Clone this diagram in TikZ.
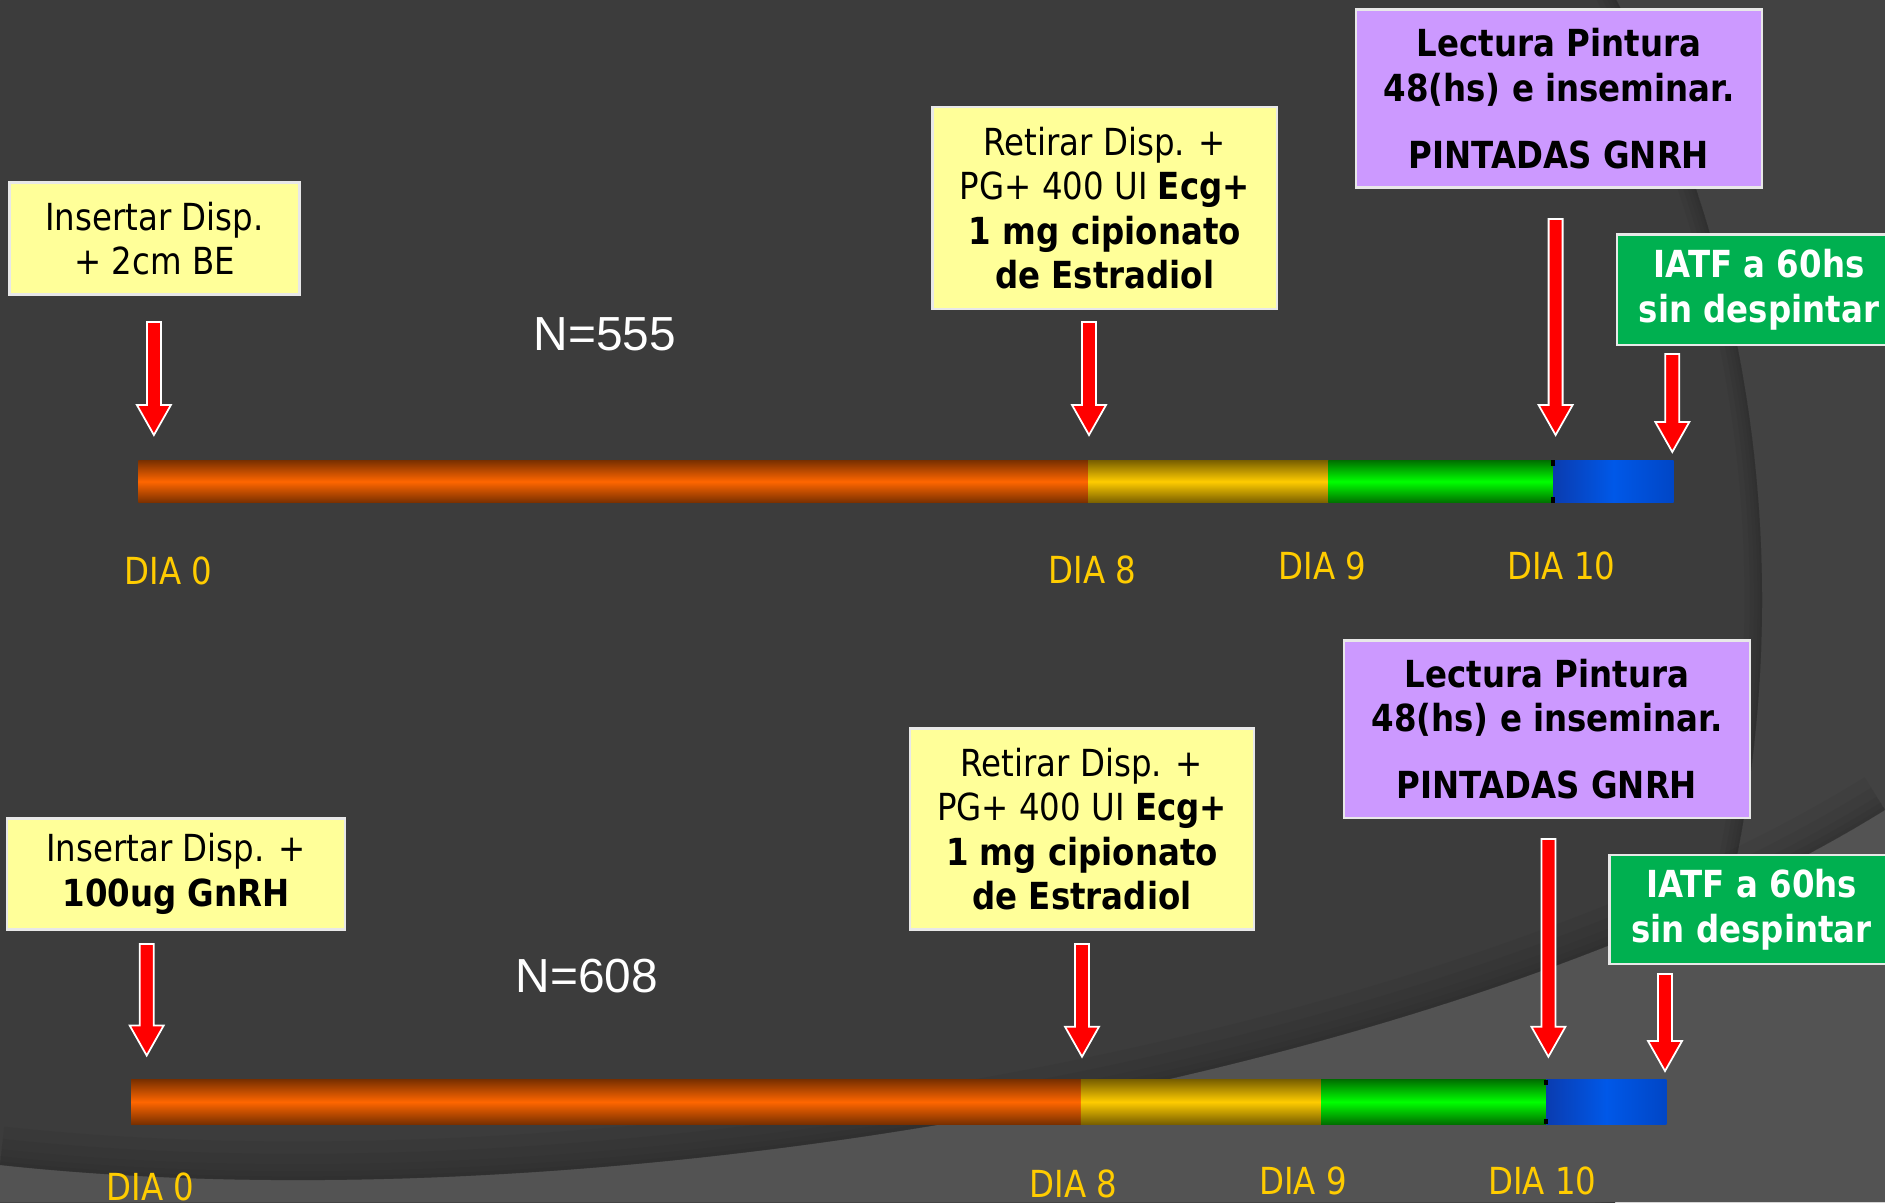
\documentclass[tikz,border=0pt]{standalone}
\usepackage{fontspec}
\setmainfont{DejaVu Sans}[FakeStretch=0.87]
\newfontfamily\arialfont{Liberation Sans}
\usetikzlibrary{calc}
\definecolor{bgdark}{HTML}{3C3C3C}
\definecolor{bgright}{HTML}{424242}
\definecolor{bglight}{HTML}{535353}
\definecolor{boxyellow}{HTML}{FFFF99}
\definecolor{boxpurple}{HTML}{CC99FF}
\definecolor{boxgreen}{HTML}{00B050}
\definecolor{boxline}{HTML}{E8E8E8}
\definecolor{gold}{HTML}{FFCC00}
\definecolor{orangeC}{HTML}{FF6600}
\definecolor{orangeE}{HTML}{7A3000}
\definecolor{yellowC}{HTML}{FFCC00}
\definecolor{yellowE}{HTML}{7A6000}
\definecolor{greenC}{HTML}{00FF00}
\definecolor{greenE}{HTML}{007000}
\definecolor{blueA}{HTML}{0A3CB0}
\definecolor{blueB}{HTML}{0058E8}
\definecolor{blueC}{HTML}{0046C6}
\newcommand{\boxfont}{\fontsize{10.6}{12.66}\selectfont}
\newcommand{\blockarrow}[2]{%
  \path[redarrow] ($(#1)+(-7,0)$) -- ($(#1)+(7,0)$) -- ($(#2)+(7,-30)$) -- ($(#2)+(17,-30)$) -- (#2) -- ($(#2)+(-17,-30)$) -- ($(#2)+(-7,-30)$) -- cycle;}
\newcommand{\bottomcurve}{(0,1165) .. controls (600,1230) and (1450,1080) .. (1885,810)}
\tikzset{
  infobox/.style={draw=boxline, line width=0.7pt, align=center, inner sep=0pt, font=\boxfont},
  ybox/.style={infobox, fill=boxyellow, text=black},
  pbox/.style={infobox, fill=boxpurple, text=black, font=\boxfont\bfseries},
  gbox/.style={infobox, fill=boxgreen, text=white, font=\boxfont\bfseries},
  redarrow/.style={fill=red, draw=white, line width=0.5pt, line join=miter},
  dia/.style={text=gold, font=\boxfont, inner sep=0pt},
  ncount/.style={text=white, font=\arialfont\fontsize{13.6}{16}\selectfont, inner sep=0pt},
  softshadow/.style={black, opacity=0.035},
  segorange/.style={top color=orangeE, bottom color=orangeE, middle color=orangeC},
  segyellow/.style={top color=yellowE, bottom color=yellowE, middle color=yellowC},
  seggreen/.style={top color=greenE, bottom color=greenE, middle color=greenC},
  segblue/.style={left color=blueA, right color=blueC, middle color=blueB},
}
\begin{document}
\begin{tikzpicture}[x=0.01cm,y=-0.01cm]
\useasboundingbox (0,0) rectangle (1885,1202);
\clip (0,0) rectangle (1885,1202);
% background
\fill[bgdark] (0,0) rectangle (1885,1202);
\fill[bgright, even odd rule] (0,0) rectangle (1885,1202) (456,600) circle (1306);
\begin{scope}
  \clip (456,600) circle (1306);
  \foreach \w in {10pt,7pt,4.5pt,2.5pt,1pt}
    \draw[softshadow, line width=\w] (456,600) circle (1306);
\end{scope}
\fill[bglight] \bottomcurve -- (1885,1202) -- (0,1202) -- cycle;
\begin{scope}
  \clip \bottomcurve -- (1885,0) -- (0,0) -- cycle;
  \foreach \w in {22pt,15pt,9pt,5pt,2pt}
    \draw[softshadow, line width=\w] \bottomcurve;
\end{scope}

% ===== top timeline =====
\node[ybox, minimum width=2.90cm, minimum height=1.12cm] (a1) at (154.5,238.6) {Insertar Disp.\\+ 2cm BE};
\node[ybox, minimum width=3.44cm, minimum height=2.02cm] (a2) at (1104.8,208) {Retirar Disp. +\\PG+ 400 UI \textbf{Ecg+}\\\textbf{1 mg cipionato}\\\textbf{de Estradiol}};
\node[pbox, minimum width=4.06cm, minimum height=1.78cm] (a3) at (1559,98.6) {Lectura Pintura\\48(hs) e inseminar.\\[6.4pt]PINTADAS GNRH};
\node[gbox, minimum width=2.84cm, minimum height=1.106cm] (a4) at (1759,289.7) {IATF a 60hs\\sin despintar};
\node[ncount] (na) at (604.7,334.2) {N=555};

\shade[segorange] (138.3,460.4) rectangle (1088,502.5);
\shade[segyellow] (1088,460.4) rectangle (1328.4,502.5);
\shade[seggreen] (1328.4,460.4) rectangle (1553.2,502.5);
\shade[segblue] (1553.2,460.4) rectangle (1673.5,502.5);
\draw[black, line width=1pt] (1553.2,460.4) -- (1553.2,466) (1553.2,497) -- (1553.2,502.5);

\coordinate (a1s) at (153.9,322);   \coordinate (a1e) at (153.9,435);
\coordinate (a2s) at (1089,322);    \coordinate (a2e) at (1089,435);
\coordinate (a3s) at (1555.6,219);  \coordinate (a3e) at (1555.6,435);
\coordinate (a4s) at (1672.3,354);  \coordinate (a4e) at (1672.3,452);
\blockarrow{a1s}{a1e}
\blockarrow{a2s}{a2e}
\blockarrow{a3s}{a3e}
\blockarrow{a4s}{a4e}

\node[dia] (da0) at (168.3,571) {DIA 0};
\node[dia] (da8) at (1092.8,570) {DIA 8};
\node[dia] (da9) at (1322.4,566) {DIA 9};
\node[dia] (da10) at (1561.4,566) {DIA 10};

% ===== bottom timeline =====
\node[ybox, minimum width=3.38cm, minimum height=1.106cm] (b1) at (176,874) {Insertar Disp. +\\\textbf{100ug GnRH}};
\node[ybox, minimum width=3.44cm, minimum height=2.01cm] (b2) at (1082,829) {Retirar Disp. +\\PG+ 400 UI \textbf{Ecg+}\\\textbf{1 mg cipionato}\\\textbf{de Estradiol}};
\node[pbox, minimum width=4.06cm, minimum height=1.77cm] (b3) at (1547,729.2) {Lectura Pintura\\48(hs) e inseminar.\\[6.4pt]PINTADAS GNRH};
\node[gbox, minimum width=2.84cm, minimum height=1.094cm] (b4) at (1751.6,909.5) {IATF a 60hs\\sin despintar};
\node[ncount] (nb) at (586.7,976.2) {N=608};

\shade[segorange] (131,1079.6) rectangle (1080.8,1124);
\shade[segyellow] (1080.8,1079.6) rectangle (1321.2,1124);
\shade[seggreen] (1321.2,1079.6) rectangle (1546,1124);
\shade[segblue] (1546,1079.6) rectangle (1666.3,1124);
\draw[black, line width=1pt] (1546,1079.6) -- (1546,1085) (1546,1118.5) -- (1546,1124);

\coordinate (b1s) at (146.7,944);   \coordinate (b1e) at (146.7,1055.5);
\coordinate (b2s) at (1082,944);    \coordinate (b2e) at (1082,1056.7);
\coordinate (b3s) at (1548.4,839);  \coordinate (b3e) at (1548.4,1056.7);
\coordinate (b4s) at (1665,974);    \coordinate (b4e) at (1665,1071);
\blockarrow{b1s}{b1e}
\blockarrow{b2s}{b2e}
\blockarrow{b3s}{b3e}
\blockarrow{b4s}{b4e}

\node[dia] (db0) at (150.3,1186.6) {DIA 0};
\node[dia] (db8) at (1073.6,1184) {DIA 8};
\node[dia] (db9) at (1303,1180.6) {DIA 9};
\node[dia] (db10) at (1542.4,1180.6) {DIA 10};
\end{tikzpicture}
\end{document}
